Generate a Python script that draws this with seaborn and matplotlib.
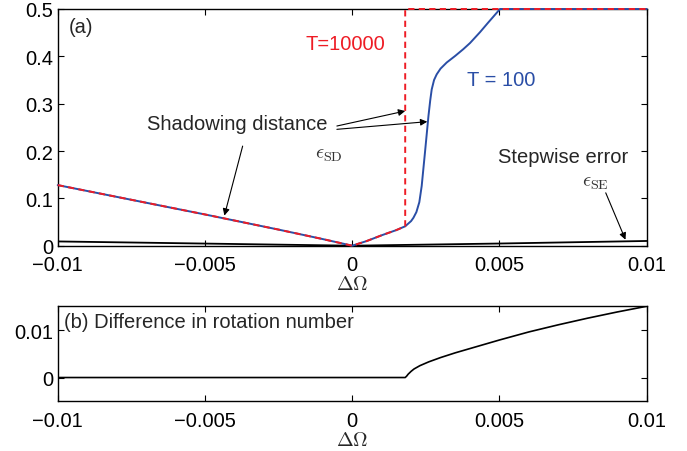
import matplotlib
matplotlib.use("Agg")
import matplotlib.pyplot as plt
import seaborn as sns
import numpy as np

# ---------------- data ----------------
x_t100 = [-0.01, -0.0075, -0.005, -0.0025, -0.001, 0.0, 0.0005, 0.001, 0.0015, 0.0018,
          0.002, 0.00208, 0.00218, 0.00228, 0.00236, 0.00247, 0.00259, 0.00265, 0.0027,
          0.00278, 0.00287, 0.003, 0.00321, 0.0035, 0.00377, 0.004, 0.00434, 0.0046,
          0.00502, 0.01]
y_t100 = [0.128, 0.097, 0.066, 0.034, 0.014, 0.0, 0.010, 0.022, 0.033, 0.041,
          0.052, 0.059, 0.071, 0.092, 0.126, 0.196, 0.274, 0.307, 0.330,
          0.350, 0.362, 0.374, 0.387, 0.401, 0.415, 0.428, 0.451, 0.470,
          0.5, 0.5]

x_t10000 = [-0.01, -0.0075, -0.005, -0.0025, -0.001, 0.0, 0.0005, 0.001, 0.0015, 0.0018, 0.0018, 0.01]
y_t10000 = [0.128, 0.097, 0.066, 0.034, 0.014, 0.0, 0.010, 0.022, 0.033, 0.041, 0.5, 0.5]

x_step = [-0.01, -0.005, 0.0, 0.005, 0.01]
y_step = [0.009, 0.0045, 0.0, 0.0046, 0.0100]

x_rot = [-0.01, 0.0018, 0.00185, 0.0019, 0.002, 0.0021, 0.0023, 0.0026, 0.003, 0.0035, 0.004,
         0.005, 0.006, 0.007, 0.008, 0.009, 0.01]
y_rot = [0.0, 0.0, 0.0003, 0.0007, 0.0013, 0.0018, 0.0025, 0.0033, 0.0042, 0.0052, 0.0061,
         0.0079, 0.0096, 0.0111, 0.0125, 0.0138, 0.0150]

x_ticks = [-0.01, -0.005, 0.0, 0.005, 0.01]
x_ticklabels = ["\u22120.01", "\u22120.005", "0", "0.005", "0.01"]
ya_ticks = [0, 0.1, 0.2, 0.3, 0.4, 0.5]
ya_ticklabels = ["0", "0.1", "0.2", "0.3", "0.4", "0.5"]
yb_ticks = [0, 0.01]
yb_ticklabels = ["0", "0.01"]

# ---------------- style ----------------
sns.set_style("ticks")
plt.rcParams["font.family"] = ["Liberation Sans", "DejaVu Sans"]
plt.rcParams["mathtext.fontset"] = "cm"
plt.rcParams["axes.linewidth"] = 1.0
plt.rcParams["axes.edgecolor"] = "black"

FS = 14.5
BLUE = "#2a4ea6"
RED = "#ee1c25"

fig = plt.figure(figsize=(6.87, 4.52), dpi=100)
ax1 = fig.add_axes([0.084, 0.4542, 0.8573, 0.5237])
ax2 = fig.add_axes([0.084, 0.110, 0.8573, 0.2102])

# ---- panel (a) ----
sns.lineplot(x=x_step, y=y_step, ax=ax1, color="black", lw=1.3, estimator=None, sort=False)
sns.lineplot(x=x_t100, y=y_t100, ax=ax1, color=BLUE, lw=1.4, estimator=None, sort=False,
             clip_on=False, zorder=3)
sns.lineplot(x=x_t10000, y=y_t10000, ax=ax1, color=RED, lw=1.4, estimator=None, sort=False,
             linestyle=(0, (3.2, 2.2)), clip_on=False, zorder=4)

ax1.set_xlim(-0.01, 0.01)
ax1.set_ylim(0, 0.5)
ax1.set_xticks(x_ticks)
ax1.set_xticklabels(x_ticklabels)
ax1.set_yticks(ya_ticks)
ax1.set_yticklabels(ya_ticklabels)
ax1.set_xlabel(r"$\Delta\Omega$", fontsize=FS, labelpad=0)
ax1.set_ylabel("")

ax1.text(-0.00963, 0.462, "(a)", fontsize=FS, va="center", ha="left")
ax1.text(-0.00159, 0.428, "T=10000", fontsize=FS, va="center", ha="left", color=RED)
ax1.text(0.00389, 0.352, "T = 100", fontsize=FS, va="center", ha="left", color=BLUE)
ax1.text(-0.00696, 0.2585, "Shadowing distance", fontsize=FS, va="center", ha="left")
ax1.text(-0.00125, 0.195, r"$\epsilon_{\rm SD}$", fontsize=FS, va="center", ha="left", color="#333333")
ax1.text(0.00496, 0.188, "Stepwise error", fontsize=FS, va="center", ha="left")
ax1.text(0.00779, 0.136, r"$\epsilon_{\rm SE}$", fontsize=FS, va="center", ha="left", color="#333333")

arrow = dict(arrowstyle="-|>", color="black", lw=0.8, mutation_scale=10, shrinkA=0, shrinkB=0)
ax1.annotate("", xy=(0.0018, 0.2845), xytext=(-0.00052, 0.2528), arrowprops=arrow)
ax1.annotate("", xy=(0.00255, 0.262), xytext=(-0.00052, 0.2458), arrowprops=arrow)
ax1.annotate("", xy=(-0.00434, 0.0636), xytext=(-0.00372, 0.2104), arrowprops=arrow)
ax1.annotate("", xy=(0.00928, 0.0127), xytext=(0.00861, 0.1117), arrowprops=arrow)

# ---- panel (b) ----
sns.lineplot(x=x_rot, y=y_rot, ax=ax2, color="black", lw=1.2, estimator=None, sort=False)
ax2.set_xlim(-0.01, 0.01)
ax2.set_ylim(-0.005, 0.015)
ax2.set_xticks(x_ticks)
ax2.set_xticklabels(x_ticklabels)
ax2.set_yticks(yb_ticks)
ax2.set_yticklabels(yb_ticklabels)
ax2.set_xlabel(r"$\Delta\Omega$", fontsize=FS, labelpad=0)
ax2.set_ylabel("")
ax2.text(-0.00979, 0.01173, "(b) Difference in rotation number", fontsize=FS, va="center", ha="left")

for ax in (ax1, ax2):
    ax.tick_params(direction="in", length=4, width=0.8, top=True, right=True,
                   labelsize=FS, colors="black")
    ax.tick_params(axis="x", pad=7)
    ax.tick_params(axis="y", pad=3)
    for s in ax.spines.values():
        s.set_visible(True)
        s.set_zorder(2)

fig.savefig("out.png", dpi=100)
